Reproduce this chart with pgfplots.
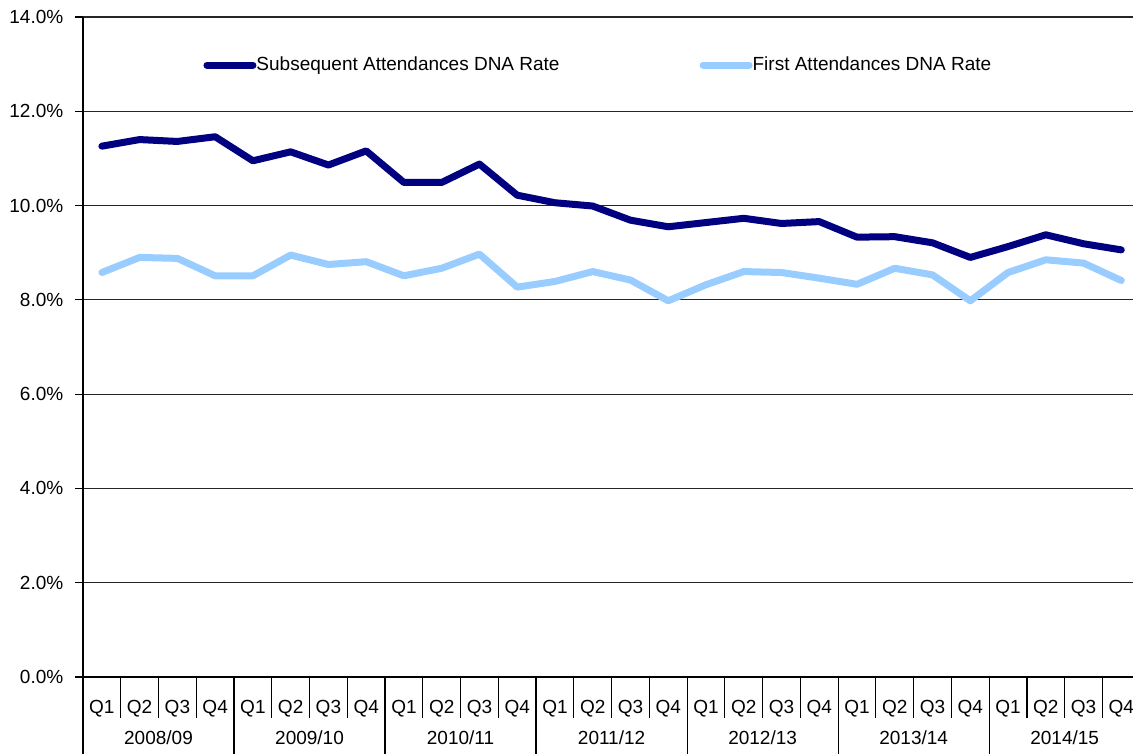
\documentclass[border=0pt]{standalone}
\usepackage{fontspec}
\setmainfont{Liberation Sans}
\usepackage{pgfplots}
\pgfplotsset{compat=1.18}
\definecolor{darkser}{HTML}{000080}
\definecolor{lightser}{HTML}{99CCFF}
\begin{document}
\fontsize{9.5}{11}\selectfont
\begin{tikzpicture}
\begin{axis}[
  scale only axis,
  width=525pt, height=330pt,
  xmin=-0.5, xmax=27.31,
  ymin=0, ymax=14,
  axis lines*=left,
  axis line style={black, line width=0.6pt},
  font=\fontsize{9.5}{11}\selectfont,
  /pgf/number format/assume math mode=true,
  ytick={0,2,...,14},
  yticklabel={\pgfmathprintnumber[fixed,fixed zerofill,precision=1]{\tick}\%},
  yticklabel style={xshift=-2.5pt},
  ymajorgrids,
  grid style={black!85, line width=0.6pt},
  tick align=outside,
  major tick length=4pt,
  minor tick length=20.5pt,
  tick style={black, line width=0.6pt},
  xtick={0,...,27},
  xticklabels={Q1,Q2,Q3,Q4,Q1,Q2,Q3,Q4,Q1,Q2,Q3,Q4,Q1,Q2,Q3,Q4,Q1,Q2,Q3,Q4,Q1,Q2,Q3,Q4,Q1,Q2,Q3,Q4},
  major x tick style={draw=none},
  xticklabel style={yshift=-4pt},
  minor xtick={-0.5,0.5,...,26.5},
  clip=false,
  legend style={at={(axis cs:2.68,12.98)}, anchor=west, draw=none, fill=none,
    legend columns=2, inner xsep=0pt,
    nodes={inner xsep=0pt},
    /tikz/every even column/.append style={column sep=70pt}},
  legend image code/.code={\draw[#1, line cap=round] (0pt,0pt) -- (23pt,0pt);},
]
\addplot[darkser, line width=3.5pt, line join=round, line cap=round] coordinates {
(0,11.26) (1,11.40) (2,11.36) (3,11.46) (4,10.95) (5,11.14) (6,10.86) (7,11.16)
(8,10.49) (9,10.49) (10,10.88) (11,10.22) (12,10.06) (13,9.99) (14,9.69) (15,9.55)
(16,9.64) (17,9.73) (18,9.62) (19,9.66) (20,9.33) (21,9.34) (22,9.21) (23,8.90)
(24,9.13) (25,9.38) (26,9.19) (27,9.06)};
\addlegendentry{Subsequent Attendances DNA Rate}
\addplot[lightser, line width=3.5pt, line join=round, line cap=round] coordinates {
(0,8.58) (1,8.90) (2,8.88) (3,8.51) (4,8.51) (5,8.95) (6,8.75) (7,8.81)
(8,8.51) (9,8.67) (10,8.97) (11,8.27) (12,8.39) (13,8.60) (14,8.42) (15,7.98)
(16,8.32) (17,8.60) (18,8.58) (19,8.46) (20,8.33) (21,8.67) (22,8.53) (23,7.98)
(24,8.58) (25,8.85) (26,8.78) (27,8.41)};
\addlegendentry{First Attendances DNA Rate}
\pgfplotsinvokeforeach{-0.5,3.5,7.5,11.5,15.5,19.5,23.5}{
  \draw[black, line width=0.6pt] (axis cs:#1,0) -- ([yshift=-38.5pt]axis cs:#1,0);
}
\node at ([yshift=-30.5pt]axis cs:1.5,0) {2008/09};
\node at ([yshift=-30.5pt]axis cs:5.5,0) {2009/10};
\node at ([yshift=-30.5pt]axis cs:9.5,0) {2010/11};
\node at ([yshift=-30.5pt]axis cs:13.5,0) {2011/12};
\node at ([yshift=-30.5pt]axis cs:17.5,0) {2012/13};
\node at ([yshift=-30.5pt]axis cs:21.5,0) {2013/14};
\node at ([yshift=-30.5pt]axis cs:25.5,0) {2014/15};
\end{axis}
\pgfresetboundingbox
\path[use as bounding box] ([shift={(-41.5pt,-38.5pt)}]current axis.south west) rectangle ([shift={(0pt,8.5pt)}]current axis.north east);
\end{tikzpicture}
\end{document}
